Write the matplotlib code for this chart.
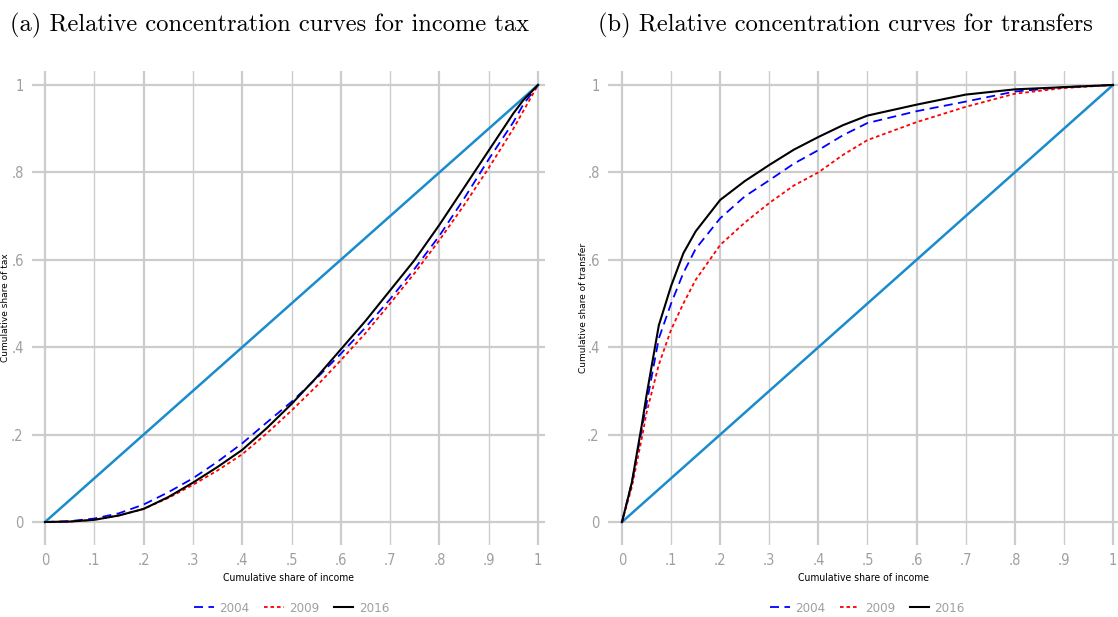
import matplotlib
matplotlib.use("Agg")
import matplotlib.pyplot as plt
from matplotlib.lines import Line2D
from matplotlib.font_manager import FontProperties

# ---- data ----
tax_x = [0, 0.05, 0.1, 0.15, 0.2, 0.25, 0.3, 0.35, 0.4, 0.45, 0.5, 0.55, 0.6, 0.65, 0.7, 0.75, 0.8, 0.85, 0.9, 0.95, 0.97, 1.0]
tax_2004 = [0, 0.002, 0.008, 0.02, 0.04, 0.068, 0.10, 0.138, 0.18, 0.228, 0.275, 0.328, 0.385, 0.445, 0.51, 0.58, 0.655, 0.74, 0.83, 0.915, 0.955, 1.0]
tax_2009 = [0, 0.001, 0.005, 0.015, 0.03, 0.055, 0.085, 0.118, 0.155, 0.203, 0.255, 0.31, 0.37, 0.432, 0.50, 0.57, 0.645, 0.725, 0.81, 0.90, 0.94, 1.0]
tax_2016 = [0, 0.001, 0.005, 0.015, 0.03, 0.057, 0.09, 0.126, 0.165, 0.215, 0.27, 0.33, 0.395, 0.46, 0.53, 0.60, 0.68, 0.765, 0.85, 0.935, 0.965, 1.0]

tr_x = [0, 0.02, 0.04, 0.05, 0.075, 0.1, 0.125, 0.15, 0.2, 0.25, 0.3, 0.35, 0.4, 0.45, 0.5, 0.6, 0.7, 0.8, 0.9, 1.0]
tr_2004 = [0, 0.09, 0.21, 0.27, 0.42, 0.50, 0.57, 0.625, 0.695, 0.745, 0.782, 0.82, 0.851, 0.885, 0.913, 0.94, 0.962, 0.985, 0.995, 1.0]
tr_2009 = [0, 0.08, 0.19, 0.25, 0.36, 0.44, 0.50, 0.554, 0.634, 0.685, 0.73, 0.77, 0.80, 0.84, 0.874, 0.915, 0.95, 0.98, 0.993, 1.0]
tr_2016 = [0, 0.09, 0.22, 0.29, 0.45, 0.54, 0.615, 0.665, 0.737, 0.78, 0.817, 0.852, 0.881, 0.908, 0.93, 0.955, 0.978, 0.99, 0.995, 1.0]

years = ["2004", "2009", "2016"]
x_ticks = [0, 0.1, 0.2, 0.3, 0.4, 0.5, 0.6, 0.7, 0.8, 0.9, 1.0]
x_labels = ["0", ".1", ".2", ".3", ".4", ".5", ".6", ".7", ".8", ".9", "1"]
y_ticks = [0, 0.2, 0.4, 0.6, 0.8, 1.0]
y_labels = ["0", ".2", ".4", ".6", ".8", "1"]

W, H = 1118, 617
fig = plt.figure(figsize=(W / 100, H / 100), dpi=100)

grid_c = "#cccccc"
eq_c = "#1a8ccc"
gray = "#a0a0a0"
styles = [dict(color="#0000ff", ls=(0, (5, 3)), lw=1.3),
          dict(color="#ff0000", ls=(0, (2, 1.6)), lw=1.3),
          dict(color="#000000", ls="-", lw=1.5)]


def nfp(size):
    return FontProperties(family="DejaVu Sans", stretch="condensed", size=size)


def panel(rect, xlim, ylim, xs, series, ylabel, ylab_x, title, title_x):
    ax = fig.add_axes(rect)
    ax.set_xlim(*xlim)
    ax.set_ylim(*ylim)
    for s in ax.spines.values():
        s.set_visible(False)
    for i, t in enumerate(x_ticks):
        ax.axvline(t, color=grid_c, lw=1.6 if i % 2 == 0 else 1.0, zorder=0)
    for t in y_ticks:
        ax.axhline(t, color=grid_c, lw=1.6, zorder=0)
    ax.set_xticks(x_ticks)
    ax.set_xticklabels(x_labels)
    ax.set_yticks(y_ticks)
    ax.set_yticklabels(y_labels)
    ax.tick_params(length=0, colors=gray, pad=6)
    for lab in ax.get_xticklabels() + ax.get_yticklabels():
        lab.set_fontproperties(nfp(10.5))
    ax.plot([0, 1], [0, 1], color=eq_c, lw=1.8, zorder=2)
    for ys, st in zip(series, styles):
        ax.plot(xs, ys, zorder=3, **st)
    ax.set_xlabel("Cumulative share of income", fontproperties=nfp(7.5))
    ax.xaxis.set_label_coords(0.5, -0.059)
    ax.set_ylabel(ylabel, fontsize=6.5)
    ax.yaxis.set_label_coords(ylab_x, 0.5)
    handles = [Line2D([], [], **st) for st in styles]
    cx = rect[0] + (0.5 - xlim[0]) / (xlim[1] - xlim[0]) * rect[2]
    leg = fig.legend(handles, years, loc="center", bbox_to_anchor=(cx, 1 - 608 / H),
                     ncol=3, frameon=False, handlelength=1.5, columnspacing=1.1,
                     handletextpad=0.4, prop=nfp(9.5))
    for t in leg.get_texts():
        t.set_color(gray)
    fig.text(title_x, 1 - 25 / H, title, family="cmr10", fontsize=17.6, va="center", ha="left")
    return ax


bottom = 1 - 545 / H
height = (545 - 71) / H
ax1 = panel([32 / W, bottom, (545 - 32) / W, height], (-0.0264, 1.0142), (-0.0526, 1.032),
            tax_x, [tax_2004, tax_2009, tax_2016], "Cumulative share of tax", -0.043,
            "(a) Relative concentration curves for income tax", 10 / W)
ax2 = panel([608 / W, bottom, (1118 - 608) / W, height], (-0.0285, 1.0102), (-0.0526, 1.032),
            tr_x, [tr_2004, tr_2009, tr_2016], "Cumulative share of transfer", -0.039,
            "(b) Relative concentration curves for transfers", 598 / W)

fig.savefig("out.png", dpi=100)
